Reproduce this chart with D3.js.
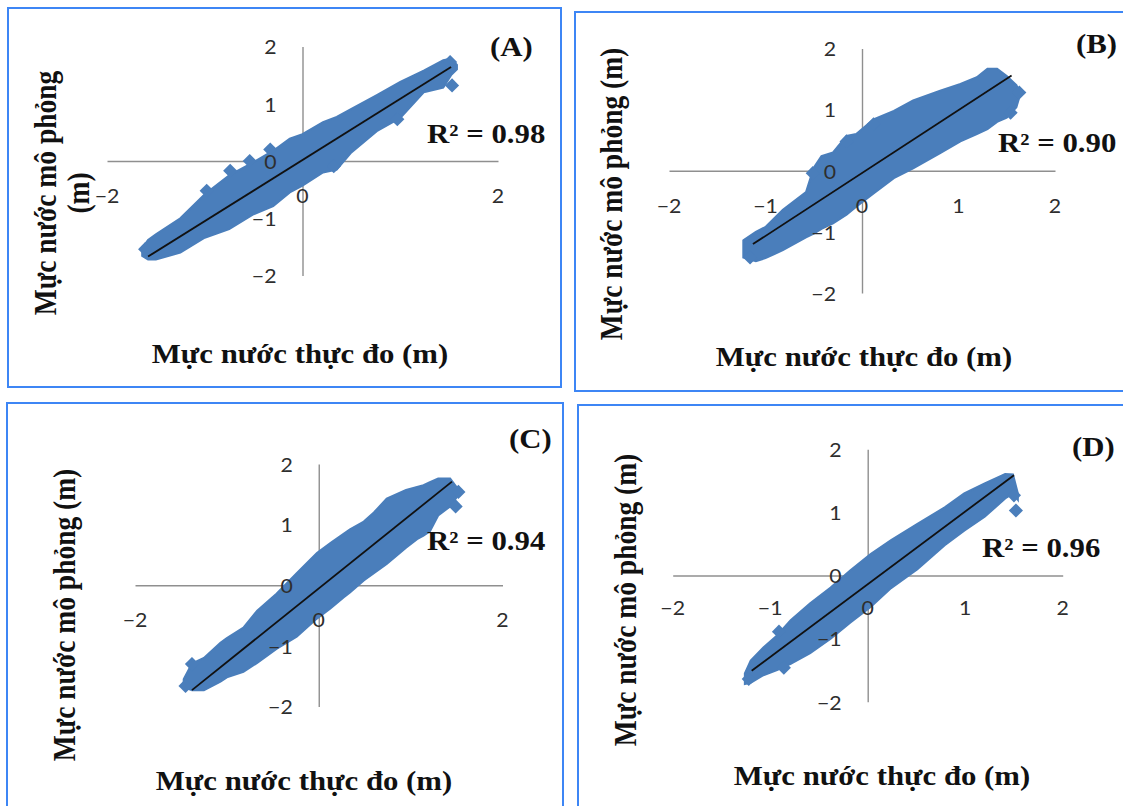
<!DOCTYPE html>
<html>
<head>
<meta charset="utf-8">
<script src="https://cdn.jsdelivr.net/npm/d3@7"></script>
<style>
  html, body { margin: 0; padding: 0; background: #fff; }
  svg { display: block; }
</style>
</head>
<body>
<svg id="chart" width="1123" height="806"></svg>
<script>
// ---------------- DATA ----------------
const panelNames = ["(A)", "(B)", "(C)", "(D)"];
const r2Values = [0.98, 0.90, 0.94, 0.96];
const xTitle = "Mực nước thực đo (m)";
const yTitleLine1 = "Mực nước mô phỏng";
const yTitleUnit = "(m)";
const yTicks = [-2, -1, 0, 1, 2];
const xTicksA = [-2, 0, 2];
const xTicksB = [-2, -1, 0, 1, 2];
const xTicksC = [-2, 0, 2];
const xTicksD = [-2, -1, 0, 1, 2];

// dense point cloud envelope: observed x, lowest / highest simulated y
const bandA_x  = [-1.64, -1.58, -1.50, -1.25, -1.00, -0.75, -0.50, -0.30, -0.13, 0.00, 0.21, 0.35, 0.50, 0.76, 1.00, 1.24, 1.44, 1.52, 1.58];
const bandA_lo = [-1.66, -1.72, -1.72, -1.60, -1.34, -1.19, -0.93, -0.79, -0.55, -0.43, -0.20, -0.15, 0.15, 0.52, 0.75, 1.20, 1.28, 1.50, 1.60];
const bandA_hi = [-1.52, -1.38, -1.28, -1.00, -0.58, -0.25, -0.02, 0.18, 0.39, 0.47, 0.68, 0.77, 0.91, 1.15, 1.38, 1.58, 1.76, 1.79, 1.68];
// isolated points sticking out of the cloud
const ptsA_x = [-1.61, -0.98, -0.74, -0.54, -0.33, 0.32, 0.97, 1.53, 1.51];
const ptsA_y = [-1.54, -0.52, -0.17, 0.00, 0.20, -0.09, 0.73, 1.32, 1.73];
const trendA_x = [-1.58, 1.52];
const trendA_y = [-1.67, 1.64];

const bandB_x  = [-1.23, -1.10, -1.00, -0.82, -0.58, -0.50, -0.42, -0.30, -0.16, -0.06, 0.12, 0.33, 0.53, 0.81, 1.02, 1.19, 1.30, 1.40, 1.50, 1.60, 1.63];
const bandB_lo = [-1.42, -1.48, -1.43, -1.30, -1.09, -1.03, -0.95, -0.86, -0.72, -0.59, -0.37, -0.12, 0.04, 0.29, 0.48, 0.60, 0.68, 0.80, 0.87, 1.04, 1.20];
const bandB_hi = [-1.14, -1.00, -0.92, -0.64, -0.35, 0.05, 0.24, 0.30, 0.57, 0.60, 0.84, 0.98, 1.15, 1.31, 1.42, 1.53, 1.67, 1.67, 1.55, 1.40, 1.30];
const ptsB_x = [-1.16, -0.51, -0.16, 0.12, 1.54, 1.63];
const ptsB_y = [-1.42, -0.04, 0.48, 0.76, 0.95, 1.28];
const trendB_x = [-1.13, 1.55];
const trendB_y = [-1.20, 1.56];

const bandC_x  = [-1.47, -1.38, -1.25, -1.07, -1.00, -0.82, -0.67, -0.46, -0.24, -0.02, 0.13, 0.27, 0.34, 0.49, 0.60, 0.74, 0.95, 1.07, 1.14, 1.21, 1.30, 1.43, 1.50];
const bandC_lo = [-1.68, -1.73, -1.73, -1.59, -1.52, -1.43, -1.28, -1.05, -0.85, -0.55, -0.38, -0.20, -0.12, 0.08, 0.20, 0.35, 0.62, 0.76, 0.82, 0.89, 1.15, 1.30, 1.45];
const bandC_hi = [-1.55, -1.29, -1.20, -0.95, -0.87, -0.70, -0.42, -0.14, 0.20, 0.53, 0.70, 0.85, 0.92, 1.05, 1.20, 1.43, 1.57, 1.62, 1.65, 1.70, 1.76, 1.76, 1.62];
const ptsC_x = [-1.45, -1.38, 1.49, 1.52];
const ptsC_y = [-1.66, -1.30, 1.30, 1.54];
const trendC_x = [-1.38, 1.45];
const trendC_y = [-1.73, 1.71];

const bandD_x  = [-1.26, -1.20, -1.07, -0.93, -0.79, -0.59, -0.38, -0.18, 0.03, 0.24, 0.51, 0.79, 0.99, 1.20, 1.41, 1.49, 1.54];
const bandD_lo = [-1.72, -1.70, -1.58, -1.50, -1.40, -1.23, -1.00, -0.75, -0.50, -0.20, 0.10, 0.48, 0.71, 0.93, 1.22, 1.30, 1.20];
const bandD_hi = [-1.55, -1.35, -1.14, -0.95, -0.71, -0.44, -0.19, 0.08, 0.34, 0.56, 0.82, 1.08, 1.30, 1.46, 1.61, 1.60, 1.30];
const ptsD_x = [-1.22, -0.91, -0.86, 1.50, 1.52];
const ptsD_y = [-1.64, -0.89, -1.46, 1.27, 1.03];
const trendD_x = [-1.19, 1.50];
const trendD_y = [-1.51, 1.59];

// ---------------- LAYOUT / STYLE ----------------
const layout = [
  { box: [8, 8, 561, 387], xr: [107, 498], yr: [275.5, 46.5], xLabOff: 35,
    name: [490, 56], r2: [427, 143], xt: [300, 363], yt: { twoLines: true, cy: 193, b1: 56, b2: 89 } },
  { box: [575, 12, 1135, 391], xr: [669, 1055], yr: [293, 48.5], xLabOff: 35,
    name: [1076, 53], r2: [998, 152], xt: [864, 366], yt: { twoLines: false, cy: 194, b1: 622 } },
  { box: [7, 403, 563, 830], xr: [135, 502.5], yr: [706.5, 464], xLabOff: 35,
    name: [509, 448], r2: [427, 550], xt: [304, 790], yt: { twoLines: false, cy: 615, b1: 75 } },
  { box: [578, 405, 1135, 830], xr: [672.7, 1062.7], yr: [701.7, 449.3], xLabOff: 33,
    name: [1072, 456], r2: [982, 557], xt: [882, 785], yt: { twoLines: false, cy: 600, b1: 636 } }
];
const series = [
  { xt: xTicksA, bx: bandA_x, lo: bandA_lo, hi: bandA_hi, px: ptsA_x, py: ptsA_y, tx: trendA_x, ty: trendA_y },
  { xt: xTicksB, bx: bandB_x, lo: bandB_lo, hi: bandB_hi, px: ptsB_x, py: ptsB_y, tx: trendB_x, ty: trendB_y },
  { xt: xTicksC, bx: bandC_x, lo: bandC_lo, hi: bandC_hi, px: ptsC_x, py: ptsC_y, tx: trendC_x, ty: trendC_y },
  { xt: xTicksD, bx: bandD_x, lo: bandD_lo, hi: bandD_hi, px: ptsD_x, py: ptsD_y, tx: trendD_x, ty: trendD_y }
];

const BLUE = "#4a7ebb";
const BORDER = "#3d86f5";
const AXIS = "#8f8f8f";
const SERIF = "'Liberation Serif', 'Times New Roman', serif";
const SANS = "Lato, 'Noto Sans', sans-serif";
const SX = 1.12; // horizontal stretch of the source image

const svg = d3.select("#chart");

series.forEach((s, i) => {
  const L = layout[i];
  const g = svg.append("g");
  const x = d3.scaleLinear().domain([-2, 2]).range(L.xr);
  const y = d3.scaleLinear().domain([-2, 2]).range(L.yr);

  // panel frame
  g.append("rect")
    .attr("x", L.box[0]).attr("y", L.box[1])
    .attr("width", L.box[2] - L.box[0]).attr("height", L.box[3] - L.box[1])
    .attr("fill", "none").attr("stroke", BORDER).attr("stroke-width", 2);

  // axes crossing at zero
  const xAxis = d3.axisBottom(x).tickValues(s.xt).tickSize(0).tickFormat("");
  const yAxis = d3.axisLeft(y).tickValues(yTicks).tickSize(0).tickFormat("");
  const gx = g.append("g").attr("transform", `translate(0,${y(0)})`).call(xAxis);
  const gy = g.append("g").attr("transform", `translate(${x(0)},0)`).call(yAxis);
  [gx, gy].forEach(a => a.select(".domain").attr("stroke", AXIS).attr("stroke-width", 1.4));

  // point cloud
  const band = s.bx.map((v, k) => ({ x: v, lo: s.lo[k], hi: s.hi[k] }));
  g.append("path").datum(band)
    .attr("d", d3.area().x(d => x(d.x)).y0(d => y(d.lo)).y1(d => y(d.hi)).curve(d3.curveLinear))
    .attr("fill", BLUE).attr("stroke", BLUE).attr("stroke-width", 2).attr("stroke-linejoin", "miter");
  const sym = d3.symbol().type(d3.symbolSquare).size(100);
  g.selectAll("path.pt").data(s.px.map((v, k) => [v, s.py[k]])).enter()
    .append("path").attr("class", "pt")
    .attr("d", sym)
    .attr("transform", d => `translate(${x(d[0])},${y(d[1])}) rotate(45)`)
    .attr("fill", BLUE);

  // linear trend line
  g.append("line")
    .attr("x1", x(s.tx[0])).attr("y1", y(s.ty[0]))
    .attr("x2", x(s.tx[1])).attr("y2", y(s.ty[1]))
    .attr("stroke", "#111").attr("stroke-width", 1.8);

  // tick labels
  g.selectAll("text.xl").data(s.xt).enter().append("text")
    .attr("transform", d => `translate(${x(d)},${y(0) + L.xLabOff}) scale(${SX},1)`)
    .attr("text-anchor", "middle").attr("dy", "0.36em")
    .attr("font-family", SANS).attr("font-size", 19).attr("fill", "#2e2e2e")
    .text(d => d3.format("d")(d));
  g.selectAll("text.yl").data(yTicks).enter().append("text")
    .attr("transform", d => `translate(${x(0) - 26},${y(d) + 1}) scale(${SX},1)`)
    .attr("text-anchor", "end").attr("dy", "0.36em")
    .attr("font-family", SANS).attr("font-size", 19).attr("fill", "#2e2e2e")
    .text(d => d3.format("d")(d));

  const serif = (sel) => sel.attr("font-family", SERIF).attr("font-weight", "bold")
    .attr("font-size", 27.5).attr("fill", "#111");

  // panel letter
  g.append("text").call(serif)
    .attr("transform", `translate(${L.name[0]},${L.name[1]}) scale(${SX},1)`)
    .text(panelNames[i]);
  // R²
  g.append("text").call(serif)
    .attr("transform", `translate(${L.r2[0]},${L.r2[1]}) scale(${SX},1)`)
    .text("R² = " + d3.format(".2f")(r2Values[i]));
  // x title
  g.append("text").call(serif)
    .attr("text-anchor", "middle")
    .attr("transform", `translate(${L.xt[0]},${L.xt[1]}) scale(${SX},1)`)
    .text(xTitle);
  // y title
  if (L.yt.twoLines) {
    g.append("text").call(serif).attr("text-anchor", "middle")
      .attr("transform", `translate(${L.yt.b1},${L.yt.cy}) scale(${SX},1) rotate(-90)`)
      .text(yTitleLine1);
    g.append("text").call(serif).attr("text-anchor", "middle")
      .attr("transform", `translate(${L.yt.b2},${L.yt.cy}) scale(${SX},1) rotate(-90)`)
      .text(yTitleUnit);
  } else {
    g.append("text").call(serif).attr("text-anchor", "middle")
      .attr("transform", `translate(${L.yt.b1},${L.yt.cy}) scale(${SX},1) rotate(-90)`)
      .text(yTitleLine1 + " " + yTitleUnit);
  }
});
</script>
</body>
</html>
